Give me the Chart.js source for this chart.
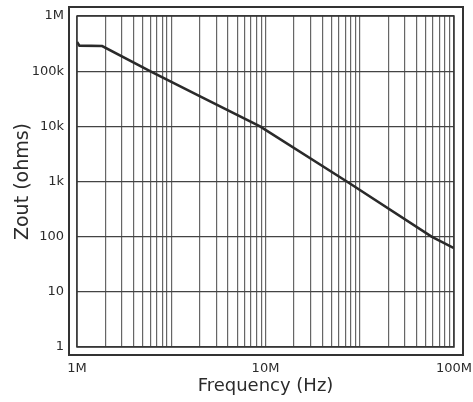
<!DOCTYPE html>
<html>
<head>
<meta charset="utf-8">
<script src="https://cdn.jsdelivr.net/npm/chart.js@4.4.1/dist/chart.umd.min.js"></script>
<style>
  html, body { margin: 0; padding: 0; background: #fff; }
  #wrap { width: 473px; height: 402px; }
</style>
</head>
<body>
<div id="wrap"><canvas id="zoutChart"></canvas></div>
<script>
// frequency (Hz) and output impedance (ohms)
const freq = [1.0e6, 1.03e6, 1.36e6, 2.44e6, 4.5e6, 9.35e6, 27e6, 76e6, 1.0e8];
const zout = [338000, 290000, 286000, 100000, 35000, 10000, 1000, 100, 62];

// axis labels
const xTickValues = [1e6, 1e7, 1e8];
const xTickLabels = ['1M', '10M', '100M'];
const yTickValues = [1, 10, 100, 1000, 10000, 100000, 1000000];
const yTickLabels = ['1', '10', '100', '1k', '10k', '100k', '1M'];

// the background is 4-cycle log paper (1..9 in each cycle)
const paperCycles = 4;
const paperLines = [];
for (let c = 0; c < paperCycles; c++) {
    for (let m = 1; m <= 9; m++) paperLines.push(m * Math.pow(10, c));
}
paperLines.push(Math.pow(10, paperCycles));

const ink = '#2b2b2b';
const fontFam = 'DejaVu Sans';

// outer frame + inner plot border like the datasheet drawing
const framePlugin = {
    id: 'frame',
    afterDraw(chart) {
        const { ctx, chartArea: a } = chart;
        ctx.save();
        ctx.strokeStyle = '#333';
        ctx.lineWidth = 1.5;
        ctx.strokeRect(a.left, a.top, a.right - a.left, a.bottom - a.top);
        ctx.lineWidth = 2;
        ctx.strokeRect(a.left - 8, a.top - 9, a.right - a.left + 17, a.bottom - a.top + 17);
        ctx.restore();
    }
};

const ctx = document.getElementById('zoutChart').getContext('2d');
new Chart(ctx, {
    type: 'line',
    data: {
        datasets: [{
            label: 'Zout',
            data: freq.map((f, i) => ({ x: f, y: zout[i] })),
            borderColor: '#2a2a2a',
            borderWidth: 2.6,
            pointRadius: 0,
            tension: 0,
            fill: false
        }]
    },
    options: {
        responsive: true,
        maintainAspectRatio: false,
        animation: false,
        layout: { padding: { left: 0, right: 19, top: 16, bottom: 0 } },
        plugins: {
            legend: { display: false },
            tooltip: { enabled: false }
        },
        scales: {
            x: {
                type: 'logarithmic',
                position: 'bottom',
                min: 1e6,
                max: 1e8,
                afterBuildTicks: s => { s.ticks = xTickValues.map(v => ({ value: v })); },
                afterFit: s => { s.height = 55; s.paddingLeft = 0; s.paddingRight = 0; },
                grid: { display: false, drawTicks: false },
                border: { display: false },
                ticks: {
                    autoSkip: false,
                    maxRotation: 0,
                    padding: 14,
                    color: ink,
                    font: { family: fontFam, size: 13 },
                    callback: v => xTickLabels[xTickValues.indexOf(v)]
                },
                title: {
                    display: true,
                    text: 'Frequency (Hz)',
                    color: ink,
                    font: { family: fontFam, size: 18 },
                    padding: { top: 0, bottom: 5 }
                }
            },
            paper: {
                type: 'logarithmic',
                position: 'bottom',
                min: 1,
                max: Math.pow(10, paperCycles),
                afterBuildTicks: s => { s.ticks = paperLines.map(v => ({ value: v })); },
                afterFit: s => { s.height = 0; s.paddingLeft = 0; s.paddingRight = 0; },
                grid: { color: '#666', lineWidth: 1.2, borderDash: [6, 2], drawTicks: false },
                border: { display: false },
                ticks: { display: false }
            },
            y: {
                type: 'logarithmic',
                min: 1,
                max: 1e6,
                afterBuildTicks: s => { s.ticks = yTickValues.map(v => ({ value: v })); },
                afterFit: s => { s.width = 77; s.paddingTop = 0; s.paddingBottom = 0; },
                grid: { color: '#444', lineWidth: 1.2, drawTicks: false },
                border: { display: false },
                ticks: {
                    autoSkip: false,
                    padding: 13,
                    color: ink,
                    font: { family: fontFam, size: 13 },
                    callback: v => yTickLabels[yTickValues.indexOf(v)]
                },
                title: {
                    display: true,
                    text: 'Zout (ohms)',
                    color: ink,
                    font: { family: fontFam, size: 19 },
                    padding: { top: 12, bottom: 0 }
                }
            }
        }
    },
    plugins: [framePlugin]
});
</script>
</body>
</html>
